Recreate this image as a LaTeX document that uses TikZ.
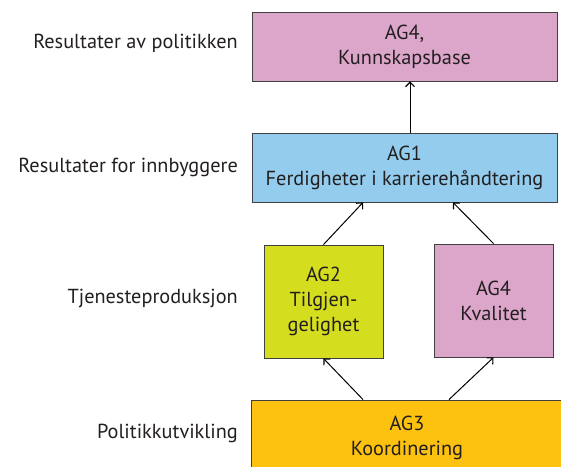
\documentclass[tikz,border=0pt]{standalone}
\usepackage{fontspec}
\setmainfont{PT Sans}
\usetikzlibrary{arrows.meta,calc}
\definecolor{pinkbox}{RGB}{220,166,202}
\definecolor{bluebox}{RGB}{148,204,238}
\definecolor{limebox}{RGB}{213,222,30}
\definecolor{orangebox}{RGB}{253,193,16}
\definecolor{edge}{RGB}{64,64,64}
\definecolor{txt}{RGB}{35,31,32}
\tikzset{
  box/.style={draw=edge, line width=0.9pt, inner sep=0pt, align=center, text=txt,
    font=\fontsize{20.3}{25}\selectfont},
  lvl/.style={anchor=east, inner sep=0pt, text=txt, font=\fontsize{20.3}{24}\selectfont},
  conn/.style={draw=black, line width=1pt, -{Straight Barb[length=4.5pt,width=9pt,line width=1.1pt]}}
}
\begin{document}
\begin{tikzpicture}[x=1pt,y=-1pt]
\useasboundingbox (0,0) rectangle (561,466);
\clip (0,0) rectangle (561,466);
% boxes
\node[box, fill=pinkbox, minimum width=305, minimum height=69] (ag4k) at (404.5,46.5) {AG4,\\Kunnskapsbase};
\node[box, fill=bluebox, minimum width=305, minimum height=69] (ag1) at (404.5,167.5) {AG1\\Ferdigheter i karrierehåndtering};
\node[box, fill=limebox, minimum width=119, minimum height=113] (ag2) at (323.5,301.5) {AG2\\Tilgjen-\\gelighet};
\node[box, fill=pinkbox, minimum width=119, minimum height=113] (ag4q) at (493.5,300.5) {AG4\\Kvalitet};
\node[box, fill=orangebox, minimum width=312, minimum height=80] (ag3) at (407,440) {};
\node[text=txt, align=center, font=\fontsize{20.3}{25}\selectfont, inner sep=0pt] (ag3t) at (407,437.5) {AG3\\Koordinering};
% level labels
\node[lvl] (l1) at (238,43) {Resultater av politikken};
\node[lvl] (l2) at (238,167) {Resultater for innbyggere};
\node[lvl] (l3) at (238,298) {Tjenesteproduksjon};
\node[lvl] (l4) at (238,433) {Politikkutvikling};
% helper x positions
\coordinate (xa) at (410,0);
\coordinate (xb) at (363,0);
\coordinate (xc) at (453,0);
\coordinate (xd) at (449,0);
% connectors
\draw[conn] (ag1.north -| xa) -- (ag4k.south -| xa);
\draw[conn] (ag2.north) -- (ag1.south -| xb);
\draw[conn] (ag4q.north) -- (ag1.south -| xc);
\draw[conn] (ag3.north -| xb) -- (ag2.south);
\draw[conn] (ag3.north -| xd) -- (ag4q.south);
\end{tikzpicture}
\end{document}
